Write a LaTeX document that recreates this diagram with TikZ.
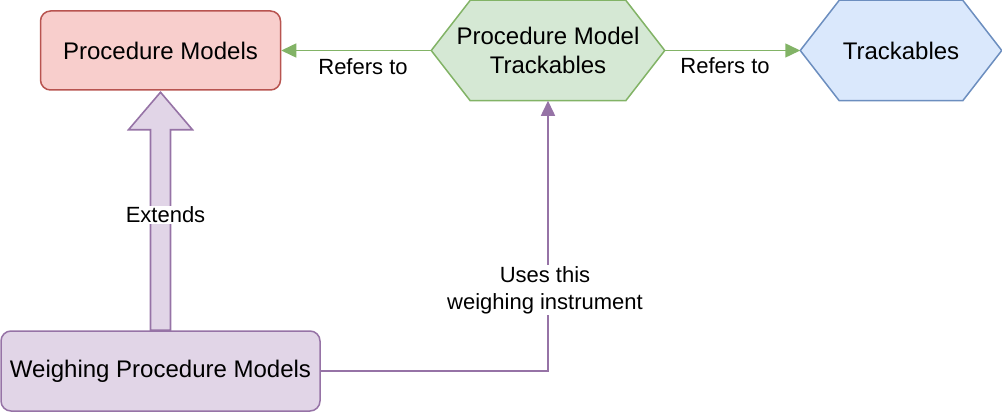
\documentclass[tikz,border=0pt]{standalone}
\usepackage{fontspec}
\setmainfont{Liberation Sans}
\usetikzlibrary{arrows.meta,calc,backgrounds}
\definecolor{redfill}{HTML}{F8CECC}
\definecolor{redline}{HTML}{B85450}
\definecolor{greenfill}{HTML}{D5E8D4}
\definecolor{greenline}{HTML}{82B366}
\definecolor{bluefill}{HTML}{DAE8FC}
\definecolor{blueline}{HTML}{6C8EBF}
\definecolor{purplefill}{HTML}{E1D5E7}
\definecolor{purpleline}{HTML}{9673A6}
\begin{document}
\begin{tikzpicture}[x=1pt,y=-1pt,line width=1.5pt,
  boxnode/.style={rounded corners=10pt,inner sep=0pt,align=center,font=\fontsize{24}{29}\selectfont},
  hexnode/.style={inner sep=0pt,align=center,font=\fontsize{24}{29}\selectfont},
  lbl/.style={inner sep=1pt,align=center,font=\fontsize{22}{27}\selectfont},
  tip/.style={-{Triangle[length=15pt,width=14pt]}}
]
\useasboundingbox (0,0) rectangle (1002,412);

\node[boxnode,draw=redline,fill=redfill,minimum width=240pt,minimum height=79pt] (pm) at (160.5,50.5) {Procedure Models};
\node[boxnode,draw=purpleline,fill=purplefill,minimum width=319pt,minimum height=80pt] (wpm) at (160.5,371) {Weighing Procedure Models};
\node[hexnode,minimum width=232pt,minimum height=99pt] (pmt) at (548,50.5) {Procedure Model\\Trackables};
\node[hexnode,minimum width=200pt,minimum height=99pt] (tr) at (901,50.5) {Trackables};

\begin{scope}[on background layer]
\draw[draw=greenline,fill=greenfill,line width=1.5pt] (pmt.west) -- ($(pmt.north west)+(39,0)$) -- ($(pmt.north east)+(-39,0)$) -- (pmt.east) -- ($(pmt.south east)+(-39,0)$) -- ($(pmt.south west)+(39,0)$) -- cycle;
\draw[draw=blueline,fill=bluefill,line width=1.5pt] (tr.west) -- ($(tr.north west)+(39,0)$) -- ($(tr.north east)+(-39,0)$) -- (tr.east) -- ($(tr.south east)+(-39,0)$) -- ($(tr.south west)+(39,0)$) -- cycle;
\end{scope}

\draw[draw=purpleline,fill=purplefill,line width=1.6pt,line join=miter] ($(wpm.north)+(-10,0)$) -- ($(pm.south)+(-10,39)$) -- ($(pm.south)+(-32,39)$) -- ($(pm.south)+(0,1.5)$) -- ($(pm.south)+(32,39)$) -- ($(pm.south)+(10,39)$) -- ($(wpm.north)+(10,0)$) -- cycle;

\node[lbl,fill=white] (ext) at (165.5,215) {Extends};

\draw[greenline,tip] (pmt.west) -- (pm.east) node[lbl,pos=0.455,yshift=-16pt,text=black] (r1) {Refers to};
\draw[greenline,tip] (pmt.east) -- (tr.west) node[lbl,pos=0.445,yshift=-15pt,text=black] (r2) {Refers to};
\draw[purpleline,tip] (wpm.east) -| (pmt.south) node[lbl,pos=0.65,xshift=-3pt,fill=white,text=black] (uses) {Uses this\\weighing instrument};
\end{tikzpicture}
\end{document}
